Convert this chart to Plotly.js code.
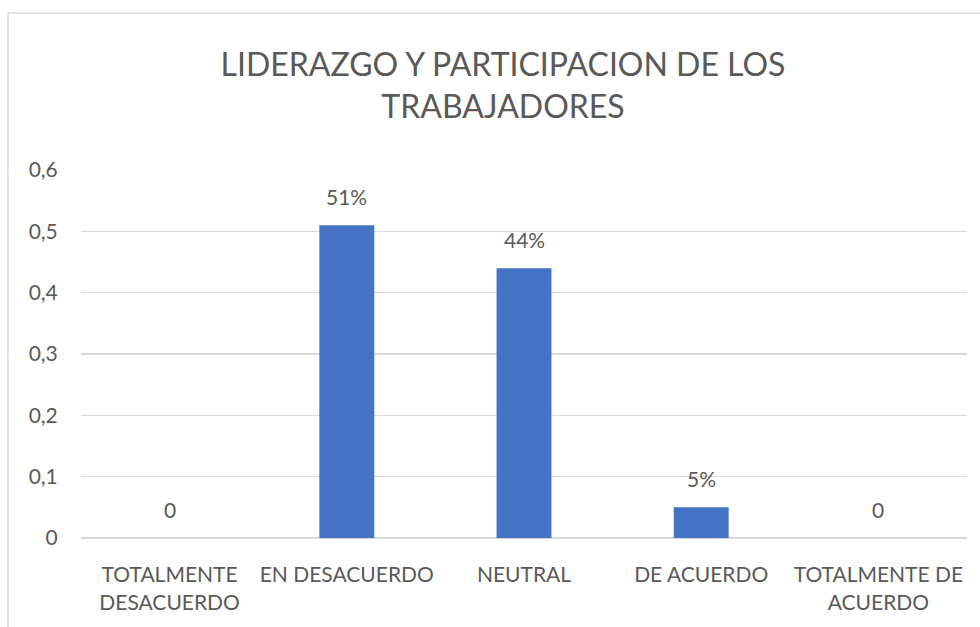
<!DOCTYPE html>
<html>
<head>
<meta charset="utf-8">
<script src="https://cdn.plot.ly/plotly-3.0.1.min.js"></script>
<style>html,body{margin:0;padding:0;background:#fff;overflow:hidden}</style>
</head>
<body>
<div id="chart" style="width:980px;height:627px"></div>
<script>
const categories = ["TOTALMENTE<br>DESACUERDO", "EN DESACUERDO", "NEUTRAL", "DE ACUERDO", "TOTALMENTE DE<br>ACUERDO"];
const values = [0, 0.51, 0.44, 0.05, 0];
const labels = ["0", "51%", "44%", "5%", "0"];
const yTickVals = [0, 0.1, 0.2, 0.3, 0.4, 0.5, 0.6];
const yTickText = ["0", "0,1", "0,2", "0,3", "0,4", "0,5", "0,6"];

const FONT = "Lato, 'Liberation Sans', sans-serif";
const GREY = "#595959";

const trace = {
  type: "bar",
  x: categories,
  y: values,
  marker: {color: "#4472c4"},
  width: 0.31,
  hoverinfo: "x+y"
};

const annotations = categories.map((c, i) => ({
  x: c, y: values[i], xref: "x", yref: "y",
  text: labels[i], showarrow: false,
  yanchor: "bottom", yshift: 14,
  font: {family: FONT, size: 21, color: GREY}
}));

const layout = {
  width: 980, height: 627,
  margin: {l: 81, r: 13, t: 170, b: 89},
  paper_bgcolor: "#fff", plot_bgcolor: "#fff",
  showlegend: false,
  title: {
    text: "LIDERAZGO Y PARTICIPACION DE LOS<br>TRABAJADORES",
    font: {family: FONT, size: 32, color: GREY},
    xref: "container", x: 503/980, xanchor: "center",
    yref: "container", y: 1 - 76/627, yanchor: "top"
  },
  xaxis: {
    type: "category",
    showgrid: false, zeroline: false, showline: false,
    ticks: "outside", ticklen: 18, tickcolor: "rgba(0,0,0,0)",
    tickfont: {family: FONT, size: 21, color: GREY},
    fixedrange: true
  },
  yaxis: {
    range: [0, 0.6],
    tickvals: yTickVals, ticktext: yTickText,
    showgrid: true, gridcolor: "#d9d9d9", gridwidth: 1.5,
    zeroline: true, zerolinecolor: "#d9d9d9", zerolinewidth: 1.5,
    showline: false,
    ticks: "outside", ticklen: 18, tickcolor: "rgba(0,0,0,0)",
    tickfont: {family: FONT, size: 21, color: GREY},
    fixedrange: true
  },
  annotations: annotations,
  shapes: [{
    type: "rect", xref: "paper", yref: "paper",
    x0: (8 - 81) / 886, x1: 1.2,
    y0: -0.5, y1: (538 - 13) / 368,
    line: {color: "#d9d9d9", width: 1.5},
    fillcolor: "rgba(0,0,0,0)", layer: "below"
  }]
};

Plotly.newPlot("chart", [trace], layout, {displayModeBar: false, staticPlot: true});
</script>
</body>
</html>
